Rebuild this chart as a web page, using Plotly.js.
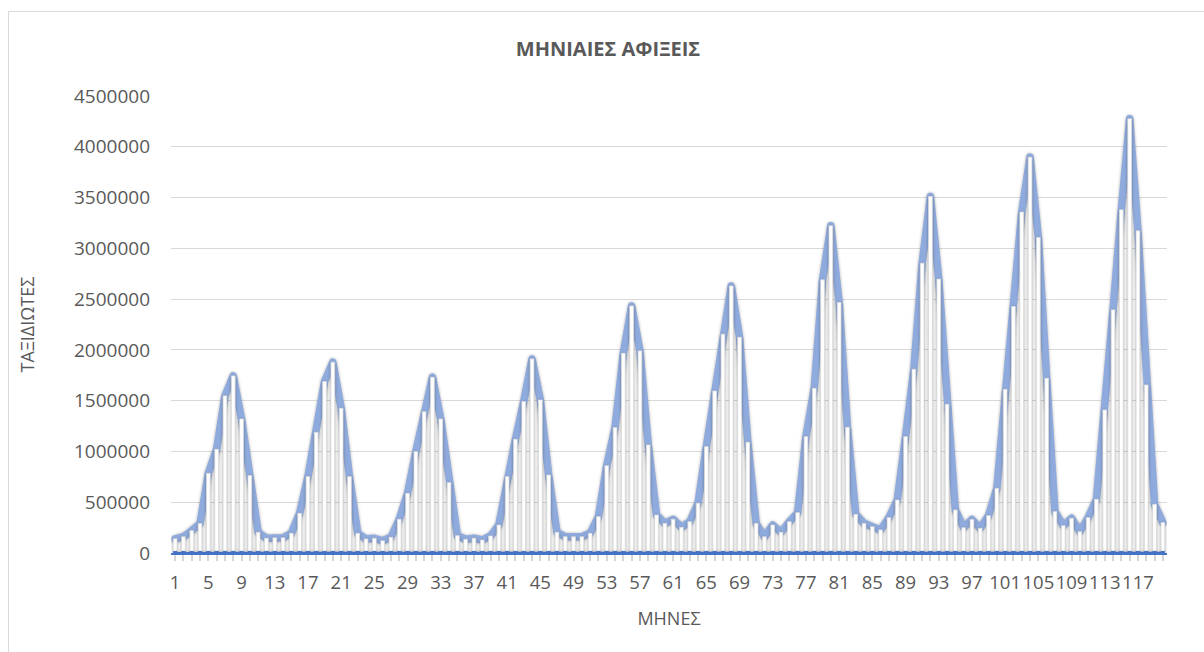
<!DOCTYPE html>
<html>
<head>
<meta charset="utf-8">
<script src="https://cdn.plot.ly/plotly-3.0.1.min.js"></script>
<style>
  html, body { margin: 0; padding: 0; background: #ffffff; overflow: hidden; }
  #chart { position: absolute; left: 0; top: 0; width: 1204px; height: 652px; }
  #frame { position: absolute; left: 8px; top: 11px; width: 1300px; height: 800px;
           border: 1px solid #d9d9d9; pointer-events: none; box-sizing: border-box; }
  #chart .scatterlayer .trace:first-child .js-line {
    stroke-linejoin: round !important; stroke-linecap: round !important;
    filter: drop-shadow(0px 0px 1.5px rgba(0,0,0,0.3));
  }
  #chart .barlayer .point path {
    filter: drop-shadow(0px 1px 1.5px rgba(0,0,0,0.35));
  }
</style>
</head>
<body>
<div id="chart"></div>
<div id="frame"></div>
<script>
// Months (categories)
var months = [1,2,3,4,5,6,7,8,9,10,11,12,13,14,15,16,17,18,19,20,
  21,22,23,24,25,26,27,28,29,30,31,32,33,34,35,36,37,38,39,40,
  41,42,43,44,45,46,47,48,49,50,51,52,53,54,55,56,57,58,59,60,
  61,62,63,64,65,66,67,68,69,70,71,72,73,74,75,76,77,78,79,80,
  81,82,83,84,85,86,87,88,89,90,91,92,93,94,95,96,97,98,99,100,
  101,102,103,104,105,106,107,108,109,110,111,112,113,114,115,116,117,118,119,120];

// Monthly arrivals (travellers)
var arrivals = [
  140000,160000,220000,290000,785000,1022000,1547000,1744000,1320000,762000,204000,145000,
  150000,150000,194000,391000,752000,1189000,1688000,1879000,1425000,752000,194000,138000,
  145000,120000,155000,332000,588000,998000,1392000,1731000,1320000,693000,171000,135000,
  145000,128000,168000,276000,752000,1120000,1491000,1911000,1507000,768000,204000,160000,
  160000,160000,194000,358000,860000,1235000,1967000,2433000,1990000,1064000,374000,292000,
  332000,253000,308000,490000,1047000,1596000,2155000,2630000,2125000,1091000,292000,160000,
  276000,204000,308000,397000,1146000,1623000,2690000,3222000,2466000,1238000,381000,292000,
  259000,227000,348000,522000,1146000,1810000,2854000,3510000,2697000,1465000,424000,249000,
  330000,243000,368000,637000,1613000,2427000,3357000,3898000,3107000,1721000,407000,269000,
  342000,210000,348000,529000,1409000,2394000,3379000,4276000,3172000,1655000,480000,299000];

// Tick labels shown on the category axis
var tickMonths = [1,5,9,13,17,21,25,29,33,37,41,45,49,53,57,61,65,69,73,77,81,85,89,93,97,101,105,109,113,117];
var yTicks = [0,500000,1000000,1500000,2000000,2500000,3000000,3500000,4000000,4500000];

var tickText = months.map(function (m) { return tickMonths.indexOf(m) >= 0 ? String(m) : ''; });

var outlineTrace = {
  type: 'scatter', mode: 'lines', x: months, y: arrivals,
  xaxis: 'x', yaxis: 'y',
  line: { color: '#8faadc', width: 7.5, shape: 'linear' },
  hoverinfo: 'skip', showlegend: false
};

var barTrace = {
  type: 'bar', x: months, y: arrivals,
  xaxis: 'x2', yaxis: 'y',
  width: 0.45,
  marker: { color: '#ffffff', line: { color: '#dcdcdc', width: 0.8 } },
  hoverinfo: 'skip', showlegend: false
};

var lineTrace = {
  type: 'scatter', mode: 'lines+markers', x: months, y: months,
  xaxis: 'x2', yaxis: 'y',
  line: { color: '#4472c4', width: 2.25 },
  marker: { color: '#4472c4', symbol: 'square', size: 4 },
  hoverinfo: 'skip', showlegend: false
};

var fontFam = '"Open Sans", "Liberation Sans", sans-serif';

var layout = {
  width: 1204, height: 652,
  paper_bgcolor: 'rgba(0,0,0,0)', plot_bgcolor: '#ffffff',
  margin: { l: 171, r: 37, t: 96, b: 99 },
  showlegend: false,
  bargap: 0,
  font: { family: fontFam, color: '#595959', size: 18 },
  title: {
    text: '<b>ΜΗΝΙΑΙΕΣ ΑΦΙΞΕΙΣ</b>',
    font: { family: fontFam, size: 20, color: '#595959' },
    xref: 'container', x: 0.505, xanchor: 'center',
    yref: 'container', y: 1 - 49 / 652, yanchor: 'middle'
  },
  xaxis: {
    range: [0.5, 120.5], type: 'linear',
    tickmode: 'array', tickvals: months, ticktext: tickText,
    tickangle: 0,
    ticks: 'outside', ticklen: 6, tickwidth: 2, tickcolor: '#d6d6d6',
    showgrid: false, zeroline: false,
    showline: true, linecolor: '#4472c4', linewidth: 2,
    tickfont: { family: fontFam, size: 18.5, color: '#595959' },
    ticklabelstandoff: 6,
    title: { text: 'ΜΗΝΕΣ', font: { family: fontFam, size: 18, color: '#595959' }, standoff: 19 }
  },
  xaxis2: {
    range: [0.5, 120.5], type: 'linear', overlaying: 'x', visible: false
  },
  yaxis: {
    range: [0, 4500000], tickmode: 'array', tickvals: yTicks,
    ticktext: yTicks.map(String),
    showgrid: true, gridcolor: '#d9d9d9', gridwidth: 1,
    zeroline: false, showline: false, ticks: '',
    tickfont: { family: fontFam, size: 19, color: '#595959' },
    ticklabelstandoff: 20,
    title: { text: 'ΤΑΞΙΔΙΩΤΕΣ', font: { family: fontFam, size: 18, color: '#595959' }, standoff: 34 }
  }
};

Plotly.newPlot('chart', [outlineTrace, barTrace, lineTrace], layout, { staticPlot: true, displayModeBar: false });
</script>
</body>
</html>
